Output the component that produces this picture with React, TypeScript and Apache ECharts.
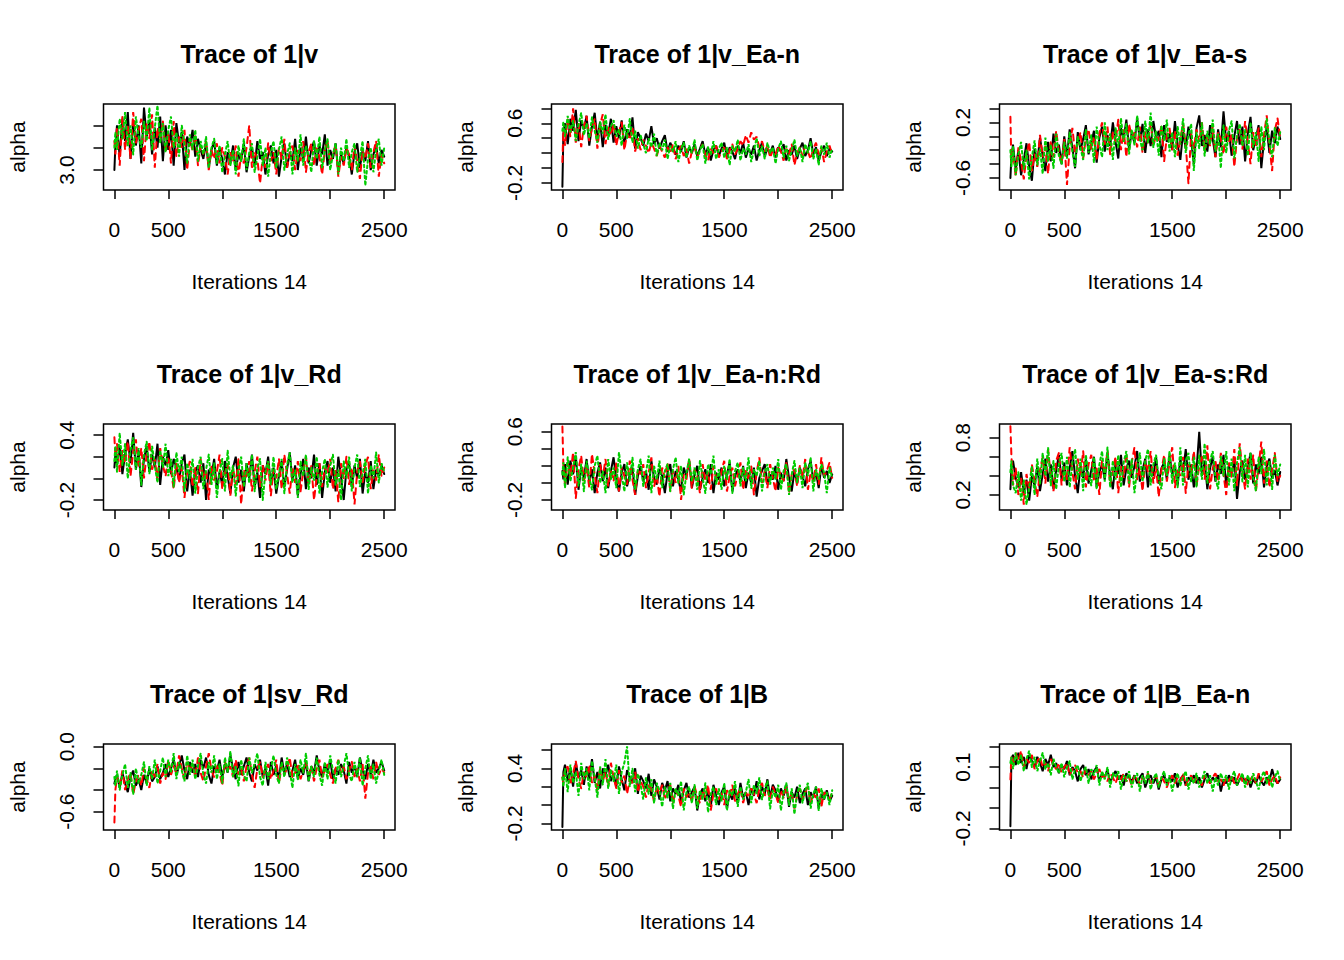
import React, { useEffect, useRef } from "react";
import * as echarts from "echarts";

// ---------- shared axis data ----------
const ITERATIONS = [
  1, 10, 25, 50, 75, 100, 125, 150, 175, 200,
  225, 250, 275, 300, 325, 350, 375, 400, 425, 450,
  475, 500, 525, 550, 575, 600, 625, 650, 675, 700,
  725, 750, 775, 800, 825, 850, 875, 900, 925, 950,
  975, 1000, 1025, 1050, 1075, 1100, 1125, 1150, 1175, 1200,
  1225, 1250, 1275, 1300, 1325, 1350, 1375, 1400, 1425, 1450,
  1475, 1500, 1525, 1550, 1575, 1600, 1625, 1650, 1675, 1700,
  1725, 1750, 1775, 1800, 1825, 1850, 1875, 1900, 1925, 1950,
  1975, 2000, 2025, 2050, 2075, 2100, 2125, 2150, 2175, 2200,
  2225, 2250, 2275, 2300, 2325, 2350, 2375, 2400, 2425, 2450,
  2475, 2500,
];
const X_TICKS = [0, 500, 1000, 1500, 2000, 2500];
const X_LABELS = [0, 500, 1500, 2500];
const X_NAME = "Iterations 14";
const Y_NAME = "alpha";

const TITLES = [
  "Trace of 1|v", "Trace of 1|v_Ea-n", "Trace of 1|v_Ea-s",
  "Trace of 1|v_Rd", "Trace of 1|v_Ea-n:Rd", "Trace of 1|v_Ea-s:Rd",
  "Trace of 1|sv_Rd", "Trace of 1|B", "Trace of 1|B_Ea-n",
];

const Y_TICKS = [
  [3.0, 3.2, 3.4],
  [-0.2, 0.0, 0.2, 0.4, 0.6, 0.8],
  [-0.6, -0.4, -0.2, 0.0, 0.2, 0.4],
  [-0.2, 0.0, 0.2, 0.4],
  [-0.2, 0.0, 0.2, 0.4, 0.6],
  [0.2, 0.4, 0.6, 0.8],
  [-0.6, -0.4, -0.2, 0.0],
  [-0.2, 0.0, 0.2, 0.4, 0.6],
  [-0.2, -0.1, 0.0, 0.1, 0.2],
];
const Y_LABELS = [
  [3.0], [-0.2, 0.6], [-0.6, 0.2],
  [-0.2, 0.4], [-0.2, 0.6], [0.2, 0.8],
  [-0.6, 0.0], [-0.2, 0.4], [-0.2, 0.1],
];
const Y_MIN = [2.821, -0.294, -0.773, -0.292, -0.317, 0.043, -0.769, -0.273, -0.208];
const Y_MAX = [3.592, 0.858, 0.465, 0.502, 0.69, 0.943, 0.025, 0.665, 0.213];

// ---------- chain values (one per ITERATIONS entry) ----------
// 1|v
const p1Black = [3.00,3.22,3.40,3.12,3.46,3.26,3.52,3.10,3.44,3.22, 3.40,3.06,3.56,3.30,3.44,3.14,3.38,3.20,3.48,3.08, 3.40,3.18,3.36,3.04,3.42,3.24,3.34,3.00,3.30,3.22, 3.36,3.12,3.28,3.18,3.10,3.24,3.02,3.18,3.26,3.04, 3.20,3.10,2.96,3.16,3.06,3.22,3.00,3.14,3.08,3.24, 2.98,3.12,3.20,3.04,3.26,3.10,3.16,2.96,3.14,3.22, 3.06,3.18,2.94,3.12,3.24,3.02,3.16,3.08,3.28,3.00, 3.20,3.10,3.30,3.06,3.18,3.26,3.04,3.22,3.14,3.32, 3.04,3.18,3.10,3.24,2.98,3.14,3.06,3.20,3.12,2.96, 3.16,3.24,3.02,3.18,3.08,3.26,3.00,3.14,3.22,3.06, 3.18,3.12];
const p1Red = [3.26,3.14,3.38,3.04,3.48,3.18,3.40,3.10,3.52,3.24, 3.36,3.46,3.08,3.42,3.28,3.50,3.02,3.38,3.26,3.44, 3.16,3.34,3.06,3.44,3.12,3.30,3.20,3.36,3.00,3.26, 3.18,3.32,3.04,3.22,3.14,3.26,3.00,3.18,3.10,3.24, 3.06,3.20,3.12,2.96,3.16,3.08,3.22,2.94,3.14,3.06, 3.20,3.40,3.02,3.16,3.10,2.88,3.12,3.02,3.24,3.08, 3.16,2.96,3.20,3.10,3.28,3.02,3.14,3.22,3.00,3.18, 3.08,3.26,2.98,3.16,3.24,3.04,3.20,3.12,2.96,3.18, 3.26,3.06,3.14,3.22,2.94,3.12,3.04,3.20,3.14,3.00, 3.22,3.08,2.92,3.18,3.10,3.24,3.02,3.16,3.26,2.94, 3.14,3.06];
const p1Green = [3.20,3.34,3.18,3.46,3.28,3.52,3.22,3.40,3.14,3.48, 3.30,3.20,3.44,3.26,3.56,3.18,3.38,3.58,3.24,3.42, 3.16,3.36,3.48,3.20,3.34,3.12,3.40,3.24,3.06,3.32, 3.18,3.36,3.08,3.26,3.14,3.30,3.02,3.20,3.28,3.06, 3.22,2.98,3.14,3.26,3.04,3.18,2.96,3.22,3.08,3.28, 3.00,3.16,3.24,2.98,3.12,3.28,3.04,3.20,2.94,3.16, 3.26,3.02,3.18,3.30,3.00,3.14,3.24,2.96,3.20,3.08, 3.32,3.04,3.22,3.12,2.98,3.26,3.10,3.30,3.02,3.18, 3.28,3.00,3.14,3.24,2.96,3.20,3.08,3.28,3.02,3.16, 3.24,2.98,3.12,3.26,2.86,3.10,3.20,2.98,3.18,3.28, 3.04,3.20];
// 1|v_Ea-n
const p2Black = [-0.25,0.46,0.60,0.32,0.66,0.50,0.78,0.36,0.64,0.52, 0.70,0.30,0.56,0.74,0.38,0.62,0.28,0.58,0.44,0.66, 0.34,0.56,0.40,0.64,0.30,0.52,0.42,0.68,0.26,0.48, 0.40,0.30,0.46,0.36,0.56,0.32,0.40,0.26,0.36,0.44, 0.22,0.34,0.26,0.18,0.30,0.22,0.36,0.14,0.28,0.20, 0.32,0.16,0.26,0.36,0.18,0.28,0.10,0.24,0.30,0.16, 0.26,0.34,0.14,0.28,0.22,0.12,0.30,0.20,0.34,0.14, 0.26,0.18,0.30,0.10,0.24,0.34,0.16,0.26,0.20,0.30, 0.14,0.28,0.22,0.32,0.10,0.24,0.18,0.30,0.12,0.26, 0.34,0.16,0.24,0.40,0.18,0.28,0.10,0.22,0.30,0.16, 0.26,0.22];
const p2Red = [0.08,0.52,0.30,0.66,0.42,0.80,0.34,0.60,0.28,0.56, 0.70,0.36,0.54,0.66,0.26,0.58,0.72,0.32,0.56,0.44, 0.60,0.30,0.48,0.62,0.24,0.46,0.38,0.54,0.22,0.40, 0.24,0.38,0.30,0.20,0.34,0.26,0.16,0.30,0.22,0.14, 0.28,0.20,0.32,0.12,0.24,0.30,0.16,0.26,0.06,0.22, 0.28,0.14,0.24,0.32,0.18,0.10,0.26,0.20,0.30,0.14, 0.22,0.28,0.12,0.24,0.32,0.18,0.26,0.36,0.30,0.44, 0.34,0.48,0.38,0.42,0.28,0.36,0.22,0.30,0.14,0.24, 0.18,0.30,0.22,0.10,0.26,0.18,0.32,0.04,0.20,0.28, 0.16,0.30,0.22,0.12,0.26,0.34,0.18,0.28,0.08,0.22, 0.30,0.18];
const p2Green = [0.50,0.62,0.42,0.70,0.48,0.64,0.36,0.58,0.74,0.44, 0.60,0.40,0.68,0.50,0.34,0.62,0.46,0.72,0.38,0.56, 0.64,0.42,0.52,0.30,0.58,0.40,0.66,0.34,0.50,0.26, 0.44,0.32,0.20,0.40,0.28,0.46,0.16,0.34,0.24,0.38, 0.12,0.30,0.22,0.36,0.08,0.26,0.34,0.14,0.30,0.20, 0.38,0.10,0.24,0.32,0.06,0.28,0.18,0.36,0.12,0.26, 0.34,0.14,0.28,0.04,0.30,0.22,0.38,0.10,0.26,0.18, 0.32,0.08,0.24,0.40,0.16,0.30,0.12,0.34,0.20,0.28, 0.06,0.26,0.36,0.14,0.30,0.10,0.24,0.38,0.16,0.28, 0.08,0.32,0.20,0.36,0.12,0.26,0.04,0.30,0.18,0.34, 0.14,0.26];
// 1|v_Ea-s
const p3Black = [-0.60,-0.30,-0.12,-0.48,-0.20,-0.56,-0.34,-0.10,-0.44,-0.64, -0.18,-0.38,-0.02,-0.28,-0.50,-0.08,-0.36,0.04,-0.24,-0.12, -0.40,0.00,-0.30,0.10,-0.16,-0.46,0.06,-0.20,-0.04,0.16, -0.26,-0.10,0.08,-0.38,-0.02,0.14,-0.22,0.02,-0.14,0.20, -0.08,-0.32,0.12,-0.04,0.24,-0.18,0.06,-0.10,0.26,-0.06, 0.18,-0.24,0.10,-0.14,0.22,-0.02,0.08,-0.30,0.16,-0.08, 0.04,-0.20,0.22,-0.12,-0.34,0.06,-0.18,0.14,-0.06,-0.40, 0.12,0.30,-0.14,0.02,-0.22,0.16,-0.04,-0.30,0.10,-0.16, 0.36,-0.08,0.08,-0.28,0.00,0.22,-0.12,0.14,-0.36,0.04, 0.28,-0.20,-0.02,0.16,-0.46,-0.06,0.12,-0.24,0.08,-0.10, 0.14,-0.04];
const p3Red = [0.28,-0.40,-0.22,-0.58,-0.16,-0.36,-0.62,-0.28,-0.08,-0.50, -0.26,-0.44,0.02,-0.30,-0.14,-0.54,-0.06,-0.30,0.08,-0.22, -0.40,-0.04,-0.70,-0.16,0.12,-0.24,-0.10,0.06,-0.32,-0.02, 0.10,-0.18,0.00,-0.34,0.04,0.20,-0.12,0.14,-0.26,0.06, -0.08,0.24,-0.20,0.10,-0.30,0.18,-0.02,0.08,-0.16,0.14, -0.24,0.06,-0.10,0.20,-0.14,0.02,-0.06,0.16,-0.36,0.00, 0.12,-0.20,0.08,-0.28,-0.04,0.18,-0.12,-0.68,0.04,-0.18, 0.10,-0.08,0.20,-0.22,0.02,-0.14,0.16,-0.30,0.06,-0.04, -0.26,0.14,-0.10,0.04,-0.44,-0.02,0.10,-0.18,0.22,-0.08, -0.40,0.06,-0.16,0.12,-0.30,0.02,0.30,-0.12,-0.50,0.08, 0.26,-0.02];
const p3Green = [-0.20,-0.44,-0.14,-0.56,-0.26,-0.08,-0.48,-0.20,-0.62,-0.30, -0.06,-0.42,-0.18,-0.54,-0.02,-0.36,-0.12,-0.46,0.04,-0.28, -0.40,-0.08,-0.32,0.06,-0.22,-0.44,0.00,-0.16,-0.34,0.10, -0.24,0.02,-0.38,0.14,-0.12,-0.30,0.20,-0.20,0.04,-0.34, 0.12,-0.16,0.26,-0.08,0.18,-0.26,0.10,-0.12,0.30,-0.04, -0.20,0.22,-0.10,0.34,-0.16,0.08,-0.28,0.16,-0.06,0.24, -0.22,0.06,-0.30,0.14,-0.12,0.26,-0.24,0.02,0.18,-0.50, 0.06,-0.18,0.20,-0.28,0.08,-0.12,0.24,-0.22,0.04,-0.46, 0.16,-0.24,0.08,0.22,-0.32,0.02,0.18,-0.14,0.10,-0.28, 0.20,-0.16,0.06,-0.36,0.14,-0.20,0.26,-0.08,-0.30,0.12, -0.14,0.06];
// 1|v_Rd
const p4Black = [0.10,0.24,0.12,0.30,0.04,0.22,0.36,0.14,0.42,0.08, 0.26,-0.08,0.18,0.30,0.06,0.22,0.10,0.32,-0.06,0.20, 0.12,0.26,0.04,0.18,0.10,-0.02,0.14,0.22,-0.12,0.08, -0.16,0.06,0.12,-0.04,0.14,-0.20,0.08,0.02,0.18,-0.10, 0.06,-0.06,0.16,0.02,-0.14,0.10,0.20,-0.04,0.08,-0.12, 0.14,0.00,0.22,-0.08,0.06,-0.18,0.12,0.04,0.20,-0.06, 0.10,-0.14,0.02,0.16,-0.08,0.08,0.24,-0.02,0.12,-0.16, 0.04,0.18,-0.10,0.10,0.00,0.22,-0.06,0.14,-0.18,0.06, 0.16,-0.04,0.10,-0.12,0.20,0.02,-0.20,0.08,0.14,-0.08, 0.12,0.00,0.18,-0.14,0.06,-0.04,0.16,-0.10,0.08,0.02, 0.12,0.04];
const p4Red = [0.38,0.20,0.32,0.06,0.26,0.14,0.34,0.02,0.24,0.36, 0.10,0.28,0.00,0.22,0.34,0.08,0.18,-0.02,0.28,0.12, 0.02,0.20,0.08,-0.10,0.14,-0.04,0.10,-0.18,0.06,0.16, -0.08,0.10,-0.14,0.18,0.00,0.08,-0.20,0.12,-0.02,0.06, 0.22,-0.10,0.04,0.14,-0.16,0.10,-0.06,0.18,-0.24,0.08, 0.00,0.16,-0.12,0.06,0.20,-0.08,0.12,-0.02,0.14,-0.16, 0.08,0.00,0.18,-0.10,0.22,0.04,-0.14,0.10,-0.04,0.16, -0.12,0.06,0.20,-0.06,0.12,-0.20,0.02,0.14,-0.08,0.10, 0.04,0.18,-0.10,0.08,-0.22,0.14,0.00,0.20,-0.06,0.10, -0.24,0.06,0.16,-0.04,0.12,0.20,-0.10,0.08,-0.02,0.22, 0.02,0.10];
const p4Green = [0.16,0.30,0.06,0.42,0.12,0.32,0.00,0.26,0.38,0.08, 0.28,-0.06,0.22,0.34,0.04,0.30,0.12,-0.04,0.26,0.10, 0.32,0.02,0.18,-0.08,0.24,0.06,0.20,-0.12,0.14,0.00, 0.18,-0.14,0.10,0.20,-0.10,0.08,0.22,-0.06,0.14,-0.18, 0.06,0.18,-0.12,0.26,0.00,0.12,-0.16,0.08,0.20,-0.08, 0.14,-0.04,0.22,-0.12,0.10,0.18,-0.20,0.06,0.16,-0.06, 0.20,-0.10,0.04,0.18,-0.14,0.12,0.24,-0.04,0.08,-0.18, 0.16,0.02,0.22,-0.10,0.10,-0.02,0.20,-0.14,0.06,0.18, -0.08,0.12,0.22,-0.06,0.08,-0.20,0.16,0.00,0.20,-0.12, 0.10,0.22,-0.08,0.04,0.18,-0.14,0.12,0.00,0.24,-0.04, 0.14,0.06];
// 1|v_Ea-n:Rd
const p5Black = [0.14,0.04,0.22,-0.02,0.26,0.10,0.32,-0.08,0.18,0.06, 0.28,0.00,0.16,-0.12,0.12,0.24,0.02,0.18,-0.06,0.14, 0.30,0.04,-0.10,0.12,0.22,-0.04,0.10,0.18,-0.14,0.08, 0.20,0.02,0.14,-0.08,0.26,0.06,-0.02,0.16,0.08,-0.12, 0.12,0.22,-0.04,0.14,0.04,-0.10,0.18,0.08,0.26,-0.06, 0.10,0.20,-0.08,0.06,0.16,0.00,0.22,-0.12,0.12,0.04, 0.18,-0.04,0.10,0.24,-0.10,0.08,0.16,0.02,0.20,-0.06, 0.12,0.00,0.18,-0.16,0.06,0.14,0.22,-0.02,0.10,0.04, 0.20,-0.08,0.12,0.02,0.28,0.06,-0.10,0.14,0.00,0.18, 0.08,-0.04,0.16,0.26,0.02,0.12,-0.06,0.20,0.06,0.14, 0.00,0.10];
const p5Red = [0.66,0.20,-0.02,0.24,0.08,0.36,-0.18,0.16,0.32,0.02, 0.20,-0.06,0.34,0.10,-0.12,0.22,0.06,0.28,-0.04,0.14, 0.02,0.24,-0.10,0.18,0.08,-0.02,0.26,0.04,-0.14,0.16, 0.10,0.22,-0.06,0.12,0.30,-0.04,0.08,-0.16,0.18,0.06, 0.24,-0.10,0.14,0.00,0.20,-0.20,0.10,0.04,0.28,-0.06, 0.16,0.08,-0.12,0.22,0.02,0.12,-0.08,0.20,0.06,-0.02, 0.14,0.26,-0.10,0.08,0.18,-0.04,0.10,0.24,-0.08,0.16, 0.04,0.20,-0.14,0.12,0.30,0.00,0.14,-0.06,0.22,0.06, -0.10,0.18,0.08,0.02,0.24,-0.12,0.10,0.16,-0.04,0.20, 0.06,0.28,-0.08,0.12,0.02,0.22,-0.02,0.30,0.08,0.14, 0.24,0.06];
const p5Green = [0.10,0.24,-0.06,0.30,0.02,0.18,0.36,-0.04,0.22,-0.10, 0.26,0.06,-0.08,0.20,0.32,0.00,0.14,-0.12,0.28,0.04, 0.18,-0.06,0.36,0.10,-0.10,0.24,0.02,0.30,-0.08,0.16, 0.28,-0.04,0.12,0.32,-0.12,0.20,0.04,0.26,-0.06,0.14, 0.22,-0.10,0.16,0.30,0.00,0.20,-0.14,0.12,0.28,0.02, 0.18,-0.08,0.26,0.06,-0.12,0.22,0.10,0.32,-0.02,0.16, -0.08,0.20,0.04,0.28,-0.12,0.14,0.24,-0.04,0.18,0.02, 0.30,-0.06,0.16,0.08,0.26,-0.10,0.12,0.22,-0.02,0.18, 0.04,0.28,-0.08,0.14,0.22,-0.14,0.10,0.26,0.00,0.18, -0.06,0.24,0.08,0.30,-0.10,0.16,0.04,0.22,0.12,-0.12, 0.18,0.06];
// 1|v_Ea-s:Rd
const p6Black = [0.26,0.48,0.56,0.38,0.28,0.44,0.22,0.36,0.14,0.40, 0.30,0.50,0.24,0.42,0.58,0.34,0.52,0.26,0.46,0.62, 0.36,0.54,0.30,0.48,0.66,0.40,0.22,0.50,0.38,0.58, 0.32,0.46,0.60,0.28,0.44,0.52,0.36,0.64,0.40,0.26, 0.54,0.42,0.62,0.30,0.48,0.56,0.38,0.50,0.66,0.34, 0.46,0.58,0.28,0.52,0.40,0.60,0.32,0.48,0.54,0.36, 0.62,0.42,0.50,0.30,0.58,0.44,0.68,0.36,0.52,0.28, 0.46,0.86,0.40,0.56,0.26,0.48,0.60,0.34,0.52,0.42, 0.62,0.30,0.50,0.40,0.58,0.16,0.44,0.56,0.36,0.48, 0.64,0.32,0.52,0.42,0.60,0.28,0.50,0.58,0.38,0.46, 0.30,0.44];
const p6Red = [0.92,0.62,0.30,0.48,0.20,0.38,0.10,0.42,0.26,0.52, 0.34,0.18,0.46,0.60,0.32,0.68,0.40,0.24,0.56,0.64, 0.30,0.50,0.36,0.70,0.44,0.26,0.58,0.40,0.66,0.28, 0.52,0.62,0.34,0.48,0.20,0.56,0.42,0.66,0.30,0.46, 0.60,0.22,0.50,0.38,0.64,0.28,0.54,0.70,0.36,0.48, 0.24,0.56,0.44,0.66,0.32,0.50,0.18,0.46,0.62,0.34, 0.54,0.70,0.28,0.48,0.40,0.60,0.22,0.52,0.44,0.66, 0.30,0.50,0.62,0.36,0.72,0.26,0.48,0.56,0.34,0.64, 0.42,0.20,0.54,0.38,0.68,0.30,0.74,0.44,0.26,0.58, 0.36,0.62,0.24,0.50,0.76,0.32,0.56,0.28,0.46,0.64, 0.34,0.40];
const p6Green = [0.44,0.56,0.30,0.22,0.44,0.14,0.36,0.10,0.28,0.50, 0.20,0.58,0.32,0.64,0.40,0.70,0.30,0.56,0.26,0.52, 0.64,0.34,0.60,0.28,0.54,0.68,0.36,0.58,0.24,0.62, 0.40,0.30,0.60,0.26,0.52,0.66,0.34,0.70,0.28,0.56, 0.36,0.62,0.28,0.54,0.66,0.32,0.58,0.22,0.48,0.64, 0.34,0.56,0.68,0.30,0.52,0.62,0.36,0.26,0.58,0.40, 0.66,0.32,0.54,0.28,0.70,0.30,0.56,0.64,0.34,0.60, 0.28,0.62,0.36,0.74,0.32,0.56,0.66,0.38,0.26,0.60, 0.40,0.66,0.30,0.58,0.24,0.54,0.70,0.34,0.62,0.28, 0.64,0.38,0.24,0.60,0.42,0.68,0.30,0.56,0.26,0.62, 0.40,0.52];
// 1|sv_Rd
const p7Black = [-0.34,-0.30,-0.26,-0.38,-0.24,-0.34,-0.42,-0.28,-0.22,-0.36, -0.30,-0.40,-0.26,-0.34,-0.20,-0.32,-0.28,-0.18,-0.30,-0.24, -0.16,-0.28,-0.20,-0.12,-0.26,-0.18,-0.08,-0.22,-0.30,-0.14, -0.24,-0.16,-0.28,-0.12,-0.20,-0.10,-0.26,-0.34,-0.18,-0.22, -0.12,-0.28,-0.16,-0.24,-0.08,-0.20,-0.30,-0.14,-0.26,-0.18, -0.10,-0.24,-0.32,-0.16,-0.22,-0.12,-0.28,-0.20,-0.36,-0.14, -0.26,-0.18,-0.30,-0.10,-0.24,-0.16,-0.28,-0.22,-0.12,-0.30, -0.20,-0.26,-0.14,-0.32,-0.18,-0.24,-0.08,-0.22,-0.28,-0.16, -0.24,-0.12,-0.30,-0.20,-0.26,-0.16,-0.22,-0.34,-0.14,-0.24, -0.18,-0.28,-0.10,-0.22,-0.30,-0.16,-0.26,-0.12,-0.24,-0.20, -0.14,-0.22];
const p7Red = [-0.70,-0.40,-0.28,-0.36,-0.22,-0.40,-0.30,-0.24,-0.44,-0.32, -0.26,-0.36,-0.20,-0.30,-0.38,-0.22,-0.28,-0.16,-0.34,-0.24, -0.30,-0.12,-0.26,-0.18,-0.24,-0.08,-0.20,-0.30,-0.14,-0.22, -0.16,-0.28,-0.10,-0.24,-0.32,-0.18,-0.06,-0.22,-0.28,-0.16, -0.24,-0.36,-0.14,-0.22,-0.18,-0.28,-0.12,-0.26,-0.20,-0.32, -0.18,-0.10,-0.26,-0.38,-0.20,-0.14,-0.28,-0.22,-0.16,-0.30, -0.22,-0.12,-0.34,-0.18,-0.26,-0.20,-0.10,-0.28,-0.24,-0.16, -0.30,-0.22,-0.14,-0.26,-0.18,-0.32,-0.20,-0.12,-0.28,-0.22, -0.16,-0.26,-0.34,-0.20,-0.12,-0.24,-0.18,-0.30,-0.22,-0.14, -0.28,-0.20,-0.32,-0.16,-0.48,-0.24,-0.18,-0.30,-0.14,-0.26, -0.20,-0.24];
const p7Green = [-0.28,-0.36,-0.22,-0.40,-0.26,-0.16,-0.38,-0.24,-0.44,-0.20, -0.34,-0.26,-0.14,-0.36,-0.18,-0.30,-0.12,-0.34,-0.22,-0.10, -0.28,-0.12,-0.24,-0.06,-0.30,-0.14,-0.22,-0.32,-0.08,-0.26, -0.12,-0.30,-0.18,-0.06,-0.26,-0.34,-0.14,-0.24,-0.08,-0.30, -0.16,-0.34,-0.10,-0.24,-0.04,-0.28,-0.18,-0.36,-0.12,-0.26, -0.32,-0.10,-0.24,-0.16,-0.06,-0.28,-0.36,-0.14,-0.30,-0.20, -0.08,-0.26,-0.34,-0.14,-0.28,-0.10,-0.22,-0.38,-0.16,-0.30, -0.12,-0.24,-0.06,-0.32,-0.18,-0.28,-0.10,-0.26,-0.36,-0.14, -0.30,-0.08,-0.22,-0.34,-0.12,-0.28,-0.18,-0.06,-0.26,-0.32, -0.14,-0.28,-0.10,-0.36,-0.20,-0.08,-0.30,-0.16,-0.34,-0.22, -0.12,-0.26];
// 1|B
const p8Black = [-0.24,0.36,0.44,0.26,0.40,0.20,0.46,0.30,0.38,0.22, 0.42,0.28,0.50,0.24,0.36,0.18,0.40,0.32,0.44,0.26, 0.34,0.20,0.42,0.28,0.16,0.38,0.30,0.24,0.40,0.12, 0.32,0.26,0.18,0.34,0.10,0.28,0.20,0.06,0.24,0.16, 0.26,0.04,0.18,0.12,0.22,0.02,0.16,0.24,0.08,0.14, 0.20,-0.06,0.12,0.18,0.04,0.16,-0.02,0.22,0.10,0.00, 0.14,0.20,-0.04,0.12,0.06,0.18,0.02,0.24,0.08,0.14, 0.00,0.18,0.10,0.26,0.06,0.20,0.12,0.28,0.08,0.22, 0.16,0.04,0.18,0.10,0.22,-0.02,0.14,0.08,0.20,0.02, 0.12,0.18,0.00,0.14,0.08,0.20,-0.04,0.12,0.06,0.16, 0.04,0.10];
const p8Red = [0.30,0.24,0.38,0.42,0.22,0.34,0.48,0.28,0.18,0.36, 0.30,0.44,0.24,0.32,0.16,0.40,0.26,0.36,0.20,0.46, 0.30,0.18,0.38,0.24,0.32,0.12,0.28,0.22,0.36,0.14, 0.26,0.20,0.08,0.24,0.16,0.04,0.20,0.12,0.22,0.06, 0.14,0.22,0.02,0.16,0.10,-0.02,0.18,0.08,0.14,0.04, 0.20,0.10,0.02,0.16,0.08,0.22,-0.06,0.12,0.18,0.06, 0.14,0.00,0.16,0.10,0.22,0.04,0.12,0.18,0.02,0.14, 0.08,0.20,0.12,0.02,0.18,0.24,0.10,0.16,0.06,0.20, 0.12,0.02,0.16,0.08,0.20,0.04,0.14,-0.04,0.10,0.18, 0.06,0.14,0.20,0.02,0.12,0.08,0.18,-0.02,0.14,0.10, 0.06,0.14];
const p8Green = [0.30,0.20,0.40,0.14,0.44,0.24,0.36,0.10,0.46,0.28, 0.40,0.16,0.48,0.30,0.08,0.42,0.22,0.50,0.18,0.38, 0.26,0.44,0.12,0.36,0.46,0.64,0.20,0.40,0.14,0.34, 0.22,0.06,0.30,0.12,0.28,0.02,0.24,0.16,-0.02,0.20, 0.08,0.24,-0.04,0.18,0.10,0.26,-0.06,0.14,0.20,0.02, 0.22,-0.04,0.16,0.06,0.24,-0.08,0.12,0.20,0.00,0.18, 0.04,0.24,-0.06,0.16,0.10,0.26,-0.02,0.20,0.06,0.14, 0.28,0.02,0.22,0.12,0.30,0.06,0.18,0.26,-0.04,0.16, 0.08,0.22,-0.06,0.14,0.24,0.00,0.18,-0.10,0.12,0.22, 0.02,0.16,0.24,-0.04,0.12,0.20,-0.06,0.18,0.06,0.14, 0.00,0.16];
// 1|B_Ea-n
const p9Black = [-0.19,0.14,0.16,0.11,0.17,0.12,0.15,0.09,0.16,0.13, 0.10,0.15,0.12,0.08,0.14,0.11,0.16,0.10,0.12,0.07, 0.11,0.09,0.13,0.06,0.10,0.08,0.03,0.09,0.11,0.06, 0.09,0.04,0.08,0.10,0.03,0.07,0.05,0.09,0.02,0.06, 0.08,0.04,0.06,0.01,0.07,0.05,0.03,0.06,0.02,0.05, 0.07,0.00,0.04,0.06,0.02,0.05,-0.01,0.04,0.06,0.02, 0.05,0.03,0.07,0.00,0.04,0.06,0.01,0.05,0.03,0.06, 0.02,0.05,0.00,0.04,0.07,0.02,0.05,0.03,0.06,-0.02, 0.04,0.02,0.06,0.03,0.05,0.01,0.04,0.06,0.02,0.05, 0.00,0.04,0.02,0.06,0.03,0.01,0.05,0.03,0.09,0.04, 0.02,0.04];
const p9Red = [0.04,0.15,0.11,0.17,0.13,0.18,0.10,0.14,0.12,0.16, 0.09,0.13,0.15,0.10,0.12,0.08,0.14,0.11,0.09,0.12, 0.07,0.10,0.12,0.06,0.09,0.11,0.07,0.08,0.05,0.09, 0.06,0.08,0.04,0.07,0.09,0.05,0.06,0.03,0.07,0.05, 0.02,0.06,0.04,0.07,0.03,0.05,0.01,0.06,0.04,0.02, 0.05,0.03,0.07,0.02,0.04,0.06,0.01,0.05,0.03,0.00, 0.04,0.06,0.02,0.05,0.03,0.07,0.01,0.04,0.06,0.02, 0.05,0.03,0.01,0.06,0.04,0.02,0.05,0.07,0.03,0.04, 0.01,0.05,0.03,0.06,0.02,0.04,0.07,0.03,0.05,0.01, 0.04,0.06,0.02,0.07,0.03,0.05,0.08,0.01,0.04,0.06, 0.02,0.05];
const p9Green = [0.12,0.15,0.09,0.17,0.11,0.16,0.08,0.14,0.18,0.10, 0.15,0.08,0.13,0.17,0.09,0.12,0.06,0.14,0.10,0.07, 0.12,0.05,0.10,0.13,0.04,0.09,0.11,0.03,0.08,0.10, 0.02,0.09,0.06,0.11,0.01,0.08,0.04,0.10,0.00,0.07, 0.05,0.08,-0.01,0.06,0.03,0.08,0.00,0.05,0.07,-0.02, 0.06,0.02,0.08,-0.01,0.04,0.07,0.00,0.05,0.08,0.01, 0.06,-0.02,0.04,0.07,0.01,0.05,0.08,-0.01,0.05,0.02, 0.07,0.00,0.04,0.08,0.02,0.06,-0.02,0.05,0.01,0.07, 0.03,0.06,-0.01,0.05,0.08,0.01,0.04,0.07,0.00,0.06, 0.02,0.07,0.03,-0.01,0.05,0.08,0.02,0.06,0.00,0.05, 0.08,0.03];

const CHAINS = [
  [p1Black, p1Red, p1Green],
  [p2Black, p2Red, p2Green],
  [p3Black, p3Red, p3Green],
  [p4Black, p4Red, p4Green],
  [p5Black, p5Red, p5Green],
  [p6Black, p6Red, p6Green],
  [p7Black, p7Red, p7Green],
  [p8Black, p8Red, p8Green],
  [p9Black, p9Red, p9Green],
];

const CHAIN_COLORS = ["#000000", "#FF0000", "#00CD00"];
const CHAIN_DASH: any[] = ["solid", [6, 5], [2.5, 3]];

const FONT = "'Liberation Sans', Arial, Helvetica, sans-serif";

export default function App() {
  const ref = useRef<HTMLDivElement>(null);

  useEffect(() => {
    if (!ref.current) return;
    const chart = echarts.init(ref.current, undefined, { renderer: "svg" });

    const BOX_L = 103.5, BOX_T = 104, BOX_W = 291.5, BOX_H = 86;
    const COL_DX = 448, ROW_DY = 320;

    const grids: any[] = [];
    const xAxes: any[] = [];
    const yAxes: any[] = [];
    const series: any[] = [];
    const graphics: any[] = [];

    for (let p = 0; p < 9; p++) {
      const col = p % 3, row = Math.floor(p / 3);
      const left = BOX_L + col * COL_DX;
      const top = BOX_T + row * ROW_DY;
      grids.push({
        left, top, width: BOX_W, height: BOX_H,
        show: true, borderColor: "#000", borderWidth: 1.5,
        backgroundColor: "transparent", containLabel: false,
      });
      xAxes.push({
        type: "value", gridIndex: p, min: -100, max: 2600, position: "bottom",
        axisLine: { show: false, onZero: false },
        splitLine: { show: false },
        axisTick: {
          show: true, inside: false, length: 9, customValues: X_TICKS,
          lineStyle: { color: "#000", width: 1.5 },
        },
        axisLabel: {
          show: true, customValues: X_LABELS, margin: 29,
          color: "#000", fontSize: 21, fontFamily: FONT,
          formatter: (v: number) => String(v),
        },
      });
      yAxes.push({
        type: "value", gridIndex: p, min: Y_MIN[p], max: Y_MAX[p], position: "left",
        axisLine: { show: false, onZero: false },
        splitLine: { show: false },
        axisTick: {
          show: true, inside: false, length: 10, customValues: Y_TICKS[p],
          lineStyle: { color: "#000", width: 1.5 },
        },
        axisLabel: {
          show: true, customValues: Y_LABELS[p], rotate: 90, margin: 27,
          color: "#000", fontSize: 21, fontFamily: FONT,
          formatter: (v: number) => v.toFixed(1),
        },
      });
      CHAINS[p].forEach((vals, c) => {
        const data: number[][] = [];
        const n = Math.min(vals.length, ITERATIONS.length);
        for (let i = 0; i < n; i++) data.push([ITERATIONS[i], vals[i]]);
        series.push({
          type: "line", xAxisIndex: p, yAxisIndex: p, data,
          showSymbol: false, symbol: "none", silent: true, z: 2 + c,
          lineStyle: { color: CHAIN_COLORS[c], width: 2, type: CHAIN_DASH[c], cap: "round" },
        });
      });
      const cx = left + BOX_W / 2;
      graphics.push({
        type: "text", x: cx, y: 54 + row * ROW_DY,
        style: {
          text: TITLES[p], fill: "#000", font: `bold 25px ${FONT}`,
          textAlign: "center", textVerticalAlign: "middle",
        },
      });
      graphics.push({
        type: "text", x: cx, y: 281 + row * ROW_DY,
        style: {
          text: X_NAME, fill: "#000", font: `21px ${FONT}`,
          textAlign: "center", textVerticalAlign: "middle",
        },
      });
      graphics.push({
        type: "text", x: 17 + col * COL_DX, y: top + BOX_H / 2,
        rotation: Math.PI / 2,
        style: {
          text: Y_NAME, fill: "#000", font: `21px ${FONT}`,
          textAlign: "center", textVerticalAlign: "middle",
        },
      });
    }

    chart.setOption({
      animation: false,
      backgroundColor: "#ffffff",
      grid: grids,
      xAxis: xAxes,
      yAxis: yAxes,
      series,
      graphic: graphics,
    });

    return () => chart.dispose();
  }, []);

  return (
    <div
      ref={ref}
      style={{ position: "fixed", left: 0, top: 0, width: 1344, height: 960, background: "#fff" }}
    />
  );
}
